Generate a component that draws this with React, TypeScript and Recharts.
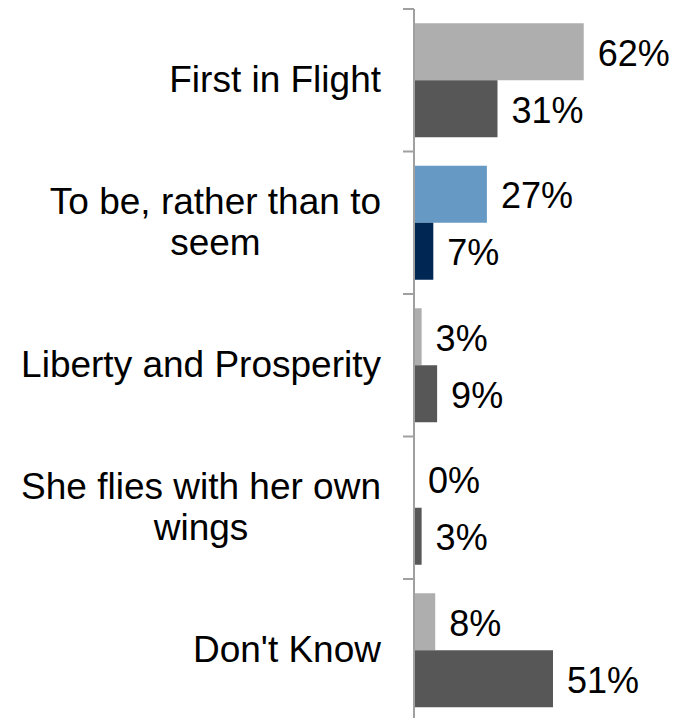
import React from 'react';
import { BarChart, Bar, XAxis, YAxis, Cell, LabelList } from 'recharts';

const categories = [
  'First in Flight',
  'To be, rather than to seem',
  'Liberty and Prosperity',
  'She flies with her own wings',
  "Don't Know",
];
const categoryLines = [
  ['First in Flight'],
  ['To be, rather than to', 'seem'],
  ['Liberty and Prosperity'],
  ['She flies with her own', 'wings'],
  ["Don't Know"],
];
const seriesA = [62.4, 26.8, 2.8, 0, 7.8];
const seriesB = [30.7, 7.1, 8.5, 2.8, 51.1];
const colorsA = ['#AEAEAE', '#6699C4', '#AEAEAE', '#AEAEAE', '#AEAEAE'];
const colorsB = ['#575757', '#002654', '#575757', '#575757', '#575757'];

const data = categories.map((name, i) => ({ name, a: seriesA[i], b: seriesB[i] }));

const W = 684;
const H = 730;
const MARGIN = { top: 9, right: 52.4, bottom: 8.5, left: 0 };
const BAND = (H - MARGIN.top - MARGIN.bottom) / categories.length;
const TICK_MARGIN = 33;
const FONT = '"Liberation Sans", Arial, sans-serif';
const CAT_SIZE = 37;
const VAL_SIZE = 36;
const LINE_H = 41.6;
const AXIS_COLOR = '#A0A0A0';

let ctx: CanvasRenderingContext2D | null = null;
function measure(text: string, size: number): number {
  try {
    if (!ctx) ctx = document.createElement('canvas').getContext('2d');
    if (ctx) {
      ctx.font = `${size}px "Liberation Sans", Arial, sans-serif`;
      return ctx.measureText(text).width;
    }
  } catch (e) {}
  return text.length * size * 0.5;
}

function CategoryTick(props: any) {
  const { x, y, index } = props;
  const lines = categoryLines[index] || [String(props.payload?.value ?? '')];
  const axisX = x + TICK_MARGIN;
  const half = BAND / 2;
  const widths = lines.map((l) => measure(l, CAT_SIZE));
  const maxW = Math.max(...widths);
  const cx = x - maxW / 2;
  const n = lines.length;
  const firstBase = y - ((n - 1) * LINE_H) / 2 + CAT_SIZE * 0.32;
  return (
    <g>
      <line x1={axisX - 11} x2={axisX} y1={y - half} y2={y - half} stroke={AXIS_COLOR} strokeWidth={2} />
      {index === categories.length - 1 && (
        <line x1={axisX - 11} x2={axisX} y1={y + half} y2={y + half} stroke={AXIS_COLOR} strokeWidth={2} />
      )}
      {lines.map((l, i) => (
        <text
          key={i}
          x={cx}
          y={firstBase + i * LINE_H}
          textAnchor="middle"
          fontFamily={FONT}
          fontSize={CAT_SIZE}
          fill="#000"
        >
          {l}
        </text>
      ))}
    </g>
  );
}

function ValueLabel(props: any) {
  const { x, y, width, height, value } = props;
  return (
    <text
      x={Number(x) + Number(width) + 14}
      y={Number(y) + Number(height) / 2 + 14}
      fontFamily={FONT}
      fontSize={VAL_SIZE}
      fill="#000"
      textAnchor="start"
    >
      {`${Math.round(Number(value))}%`}
    </text>
  );
}

export default function App() {
  return (
    <div
      style={{
        position: 'fixed',
        top: 0,
        left: 0,
        width: W,
        height: 718,
        overflow: 'hidden',
        background: '#fff',
      }}
    >
      <BarChart
        width={W}
        height={H}
        data={data}
        layout="vertical"
        margin={MARGIN}
        barCategoryGap="10%"
        barGap={0}
      >
        <XAxis type="number" hide domain={[0, 80]} />
        <YAxis
          type="category"
          dataKey="name"
          width={414}
          interval={0}
          tickSize={0}
          tickMargin={TICK_MARGIN}
          tickLine={false}
          axisLine={{ stroke: AXIS_COLOR, strokeWidth: 2 }}
          tick={<CategoryTick />}
        />
        <Bar dataKey="a" isAnimationActive={false} minPointSize={0.01}>
          {data.map((_, i) => (
            <Cell key={i} fill={colorsA[i]} />
          ))}
          <LabelList dataKey="a" content={<ValueLabel />} />
        </Bar>
        <Bar dataKey="b" isAnimationActive={false} minPointSize={0.01}>
          {data.map((_, i) => (
            <Cell key={i} fill={colorsB[i]} />
          ))}
          <LabelList dataKey="b" content={<ValueLabel />} />
        </Bar>
      </BarChart>
    </div>
  );
}
